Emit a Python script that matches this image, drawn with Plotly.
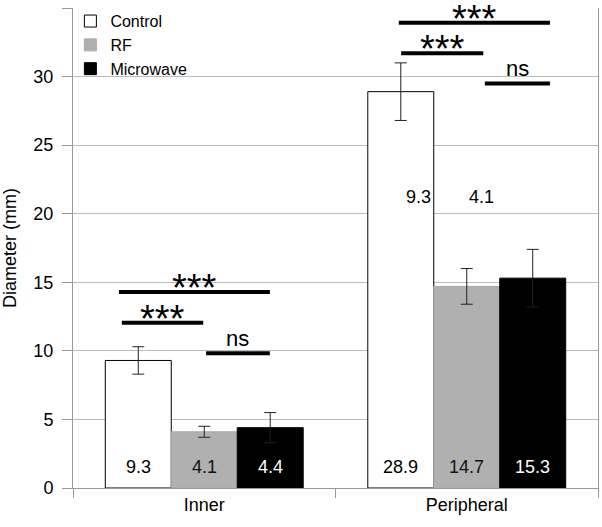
import plotly.graph_objects as go

categories = ["Inner", "Peripheral"]
control = [9.3, 28.9]
rf = [4.1, 14.7]
microwave = [4.4, 15.3]
control_err = [1.0, 2.1]
rf_err = [0.4, 1.3]
microwave_err = [1.1, 2.1]

# significance brackets: (x start, x end, y level, label)
sig_x0 = [-0.325, -0.314, 0.007, 0.741, 0.750, 1.069]
sig_x1 = [0.250, -0.004, 0.250, 1.317, 1.063, 1.317]
sig_y = [14.3, 12.05, 9.82, 33.93, 31.7, 29.5]
sig_label = ["***", "***", "ns", "***", "***", "ns"]

# stray labels present in the original figure
stray_x = [0.871, 1.057]
stray_y = [21.25, 21.25]
stray_text = ["9.3", "4.1"]

FONT = "Liberation Sans, Arial, sans-serif"
BARGAP = 0.246

series = [
    ("Control", control, control_err, "white", "black", "black"),
    ("RF", rf, rf_err, "#b0b0b0", "#a8a8a8", "#111111"),
    ("Microwave", microwave, microwave_err, "black", "black", "white"),
]

fig = go.Figure()
annotations = []
bar_w = (1 - BARGAP) / len(series)
for j, (name, vals, errs, fill, edge, tcol) in enumerate(series):
    fig.add_trace(go.Bar(
        name=name, x=categories, y=vals,
        marker=dict(color=fill, line=dict(color=edge, width=1)),
        error_y=dict(type="data", array=errs, color="#222", thickness=1, width=6),
    ))
    for i, v in enumerate(vals):
        annotations.append(dict(
            x=i + (j - (len(series) - 1) / 2) * bar_w, y=0, xref="x", yref="y",
            text=f"{v:.1f}", showarrow=False, yanchor="middle", yshift=21,
            font=dict(size=18, color=tcol, family=FONT)))

shapes = []
for x0, x1, y, lab in zip(sig_x0, sig_x1, sig_y, sig_label):
    shapes.append(dict(type="line", xref="x", yref="y", x0=x0, x1=x1, y0=y, y1=y,
                       line=dict(color="black", width=4)))
    if lab == "***":
        annotations.append(dict(x=(x0 + x1) / 2, y=y, xref="x", yref="y", text=lab,
                                showarrow=False, yanchor="middle", yshift=4,
                                font=dict(size=38, color="black", family=FONT)))
    else:
        annotations.append(dict(x=(x0 + x1) / 2, y=y, xref="x", yref="y", text=lab,
                                showarrow=False, yanchor="middle", yshift=15,
                                font=dict(size=22, color="black", family=FONT)))
for x, y, t in zip(stray_x, stray_y, stray_text):
    annotations.append(dict(x=x, y=y, xref="x", yref="y", text=t, showarrow=False,
                            xanchor="right" if t == "9.3" else "center",
                            font=dict(size=18, color="black", family=FONT)))

fig.update_layout(
    width=602, height=527,
    margin=dict(l=73, r=4, t=8, b=39),
    barmode="group", bargap=BARGAP, bargroupgap=0,
    plot_bgcolor="white", paper_bgcolor="white",
    font=dict(family=FONT, size=18, color="black"),
    showlegend=True,
    legend=dict(x=-0.005, y=1.008, xanchor="left", yanchor="top",
                bgcolor="rgba(0,0,0,0)", font=dict(size=16, family=FONT),
                tracegroupgap=0),
    shapes=shapes, annotations=annotations,
    xaxis=dict(showline=True, linecolor="#999", linewidth=1, ticks="outside",
               tickson="boundaries", ticklen=9, tickcolor="#999", automargin=False,
               showgrid=False, tickfont=dict(size=18), range=[-0.5, 1.5]),
    yaxis=dict(range=[0, 35], dtick=5, showline=True, linecolor="#999", mirror=True,
               ticks="outside", ticklen=10, tickcolor="#999", automargin=False,
               ticklabelstandoff=5,
               showgrid=True, gridcolor="#bbbbbb", gridwidth=1,
               tickfont=dict(size=18),
               title=dict(text="Diameter (mm)", font=dict(size=18), standoff=16)),
)

fig.write_html("out.html", config={"displayModeBar": False},
               post_script="document.body.style.margin='0px';")
